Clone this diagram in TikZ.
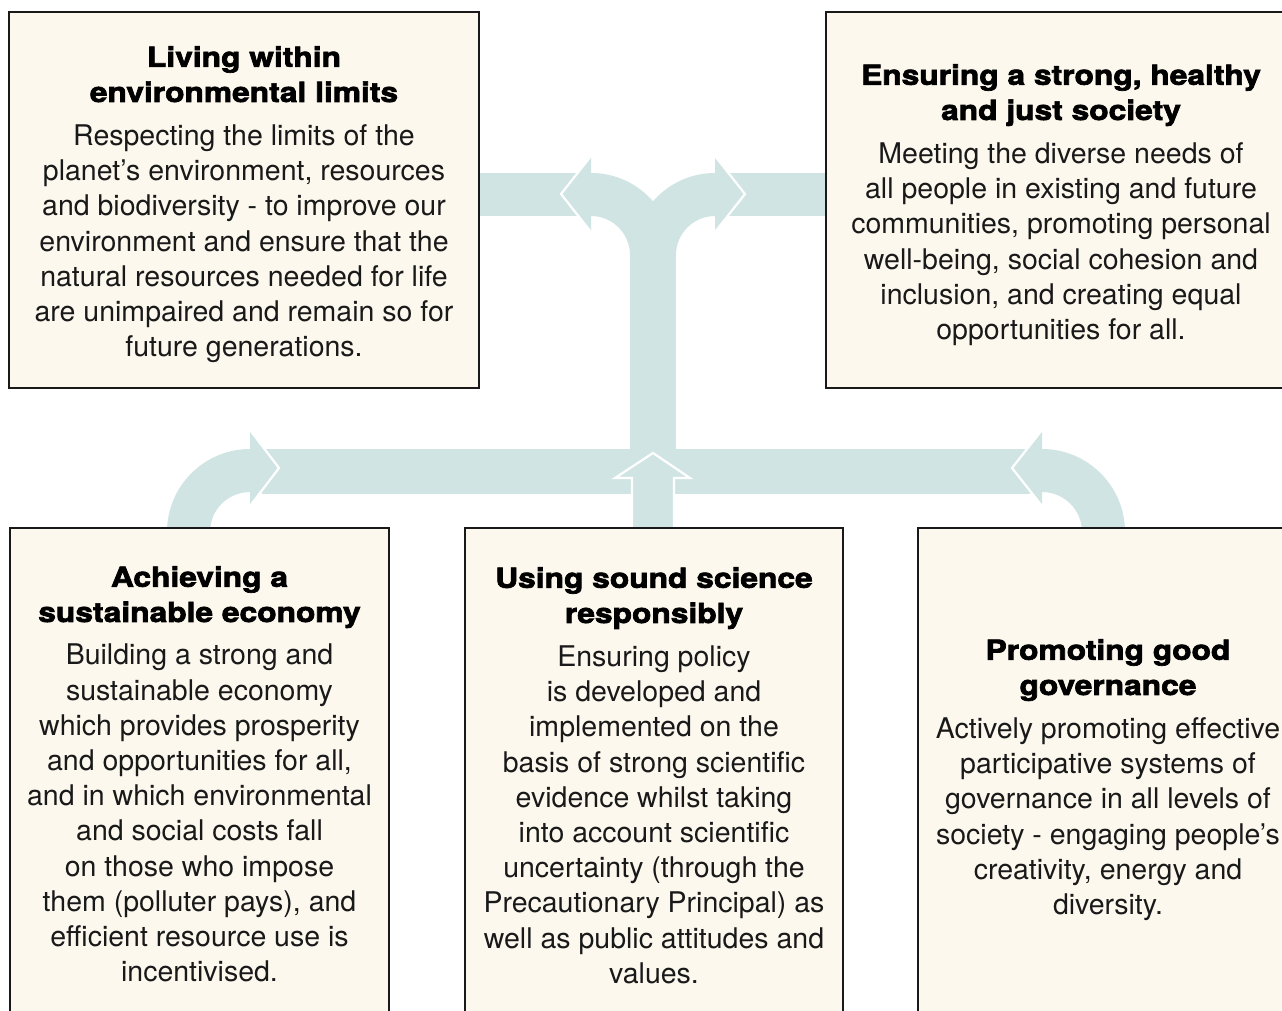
\documentclass[tikz,border=0pt]{standalone}
\usepackage{fontspec}
\setmainfont{TeX Gyre Heros}
\newfontfamily\titlefam{texgyreheros-bold.otf}[FakeBold=2.5,FakeStretch=1.15]
\newcommand\mytitle{\titlefam\fontsize{27.6}{35.2}\selectfont}
\newcommand\mybody{\normalfont\fontsize{28.5}{35.2}\selectfont}
\definecolor{flow}{HTML}{D0E4E3}
\definecolor{paper}{HTML}{FCF8EE}
\begin{document}
\begin{tikzpicture}[x=1pt,y=-1pt,
  flowfill/.style={fill=flow,draw=none},
  edgeline/.style={draw=white,line width=2.2pt,line join=miter},
  panel/.style={fill=paper,draw=black!90,line width=1.5pt},
  ttlnode/.style={align=center,inner sep=0pt,anchor=north,font=\mytitle,text=black},
  bodynode/.style={align=center,inner sep=0pt,anchor=north,font=\mybody,text=black!90},
]
\useasboundingbox (0,0) rectangle (1282,1011);
\clip (0,0) rectangle (1282,1011);
\fill[white] (0,0) rectangle (1282,1011);

% ---- upper flow: bands
\fill[flowfill] (479,173) rectangle (580,216);
\fill[flowfill] (726,173) rectangle (826,216);
% branches
\fill[flowfill] (591,173) arc[start angle=-90,end angle=0,radius=82] -- (630,255)
   arc[start angle=0,end angle=-90,radius=39] -- cycle;
\fill[flowfill] (715,173) arc[start angle=270,end angle=180,radius=82] -- (676,255)
   arc[start angle=180,end angle=270,radius=39] -- cycle;
% stem
\fill[flowfill] (630,250) rectangle (676,452);
% top arrowheads
\fill[flowfill] (591,156) -- (561,194) -- (591,232) -- cycle;
\draw[edgeline] (591,156) -- (561,194) -- (591,232);
\fill[flowfill] (715,156) -- (745,194) -- (715,232) -- cycle;
\draw[edgeline] (715,156) -- (745,194) -- (715,232);

% ---- lower flow: band
\fill[flowfill] (262,449) rectangle (1030,494);
% left curved arrow
\fill[flowfill] (167,540) -- (167,532) arc[start angle=180,end angle=270,radius=83] -- (250,492)
   arc[start angle=270,end angle=180,radius=40] -- (210,540) -- cycle;
\fill[flowfill] (250,430) -- (279,468) -- (250,506) -- cycle;
\draw[edgeline] (250,430) -- (279,468) -- (250,506);
% right curved arrow
\fill[flowfill] (1042,449) arc[start angle=-90,end angle=0,radius=83] -- (1125,540) -- (1082,540) -- (1082,532)
   arc[start angle=0,end angle=-90,radius=40] -- cycle;
\fill[flowfill] (1042,430) -- (1012,468) -- (1042,506) -- cycle;
\draw[edgeline] (1042,430) -- (1012,468) -- (1042,506);
% middle up arrow
\fill[flowfill] (632,540) -- (632,478) -- (615,478) -- (653,453) -- (690,478) -- (674,478) -- (674,540) -- cycle;
\draw[edgeline] (632,540) -- (632,478) -- (615,478) -- (653,453) -- (690,478) -- (674,478) -- (674,540);

% ---- panels
\draw[panel] (9,12) rectangle (479,388);
\draw[panel] (826,12) rectangle (1300,388);
\draw[panel] (10,528) rectangle (389,1030);
\draw[panel] (465,528) rectangle (843,1030);
\draw[panel] (918,528) rectangle (1300,1030);

% ---- texts
\node[ttlnode] (tlt) at (244,46) {Living within\\environmental limits};
\node[bodynode] (tlb) at (244,124.5) {Respecting the limits of the\\planet’s environment, resources\\and biodiversity - to improve our\\environment and ensure that the\\natural resources needed for life\\are unimpaired and remain so for\\future generations.};

\node[ttlnode] (trt) at (1061,64) {Ensuring a strong, healthy\\and just society};
\node[bodynode] (trb) at (1061,142.5) {Meeting the diverse needs of\\all people in existing and future\\communities, promoting personal\\well-being, social cohesion and\\inclusion, and creating equal\\opportunities for all.};

\node[ttlnode] (blt) at (199.5,566) {Achieving a\\sustainable economy};
\node[bodynode] (blb) at (199.5,644) {Building a strong and\\sustainable economy\\which provides prosperity\\and opportunities for all,\\and in which environmental\\and social costs fall\\on those who impose\\them (polluter pays), and\\efficient resource use is\\incentivised.};

\node[ttlnode] (bmt) at (654,567) {Using sound science\\responsibly};
\node[bodynode] (bmb) at (654,645.5) {Ensuring policy\\is developed and\\implemented on the\\basis of strong scientific\\evidence whilst taking\\into account scientific\\uncertainty (through the\\Precautionary Principal) as\\well as public attitudes and\\values.};

\node[ttlnode] (brt) at (1108,639) {Promoting good\\governance};
\node[bodynode] (brb) at (1108,717.5) {Actively promoting effective\\participative systems of\\governance in all levels of\\society - engaging people’s\\creativity, energy and\\diversity.};
\end{tikzpicture}
\end{document}
